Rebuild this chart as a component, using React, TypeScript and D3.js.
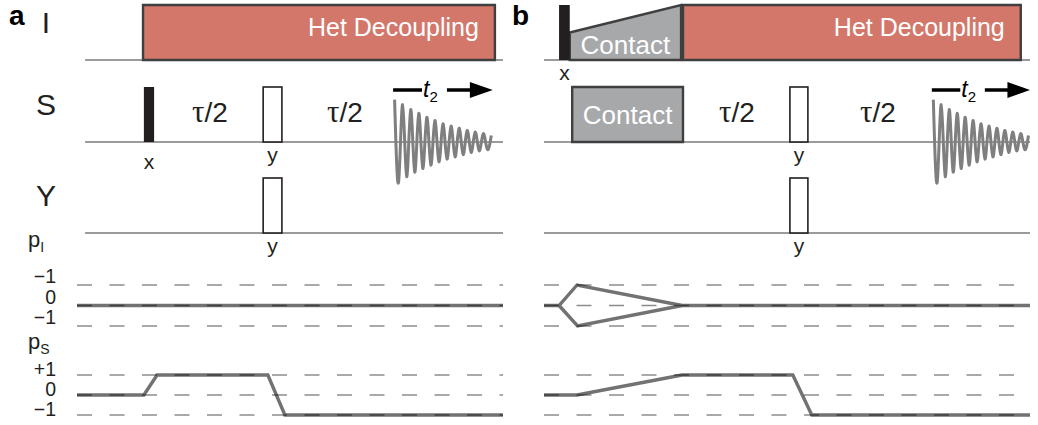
import React, { useEffect, useRef } from "react";
import * as d3 from "d3";

const W = 1038;
const H = 425;

// rows
const channels = ["I", "S", "Y"];
const levels = [1, 0, -1];
const pILevelLabels = ["−1", "0", "−1"];
const pSLevelLabels = ["+1", "0", "−1"];

// panel a (time in arbitrary units, 0-100 across the pathway window)
const hardPulsesA = [
  { ch: "S", t0: 15.7, t1: 18.1, filled: true, phase: "x" },
  { ch: "S", t0: 43.7, t1: 48.1, filled: false, phase: "y" },
  { ch: "Y", t0: 43.7, t1: 48.1, filled: false, phase: "y" },
];
const blocksA = [
  { ch: "I", t0: 15.5, t1: 98.1, h0: 1, h1: 1, kind: "het", label: "Het Decoupling" },
];
const delaysA = [31.2, 62.9];
const acqA = [74.2, 97.6];
const pIPathsA = [[[0, 0], [100, 0]]];
const pSPathA = [[0, 0], [15.7, 0], [18.8, 1], [44.8, 1], [48.8, -1], [100, -1]];

// panel b
const hardPulsesB = [
  { ch: "I", t0: 3.1, t1: 5.3, filled: true, phase: "x" },
  { ch: "S", t0: 50.6, t1: 54.3, filled: false, phase: "y" },
  { ch: "Y", t0: 50.6, t1: 54.3, filled: false, phase: "y" },
];
const blocksB = [
  { ch: "I", t0: 5.3, t1: 28.2, h0: 0.5, h1: 1, kind: "contact", label: "Contact" },
  { ch: "I", t0: 28.6, t1: 98.1, h0: 1, h1: 1, kind: "het", label: "Het Decoupling" },
  { ch: "S", t0: 5.8, t1: 28.6, h0: 1, h1: 1, kind: "contact", label: "Contact" },
];
const delaysB = [39.7, 68.7];
const acqB = [79.8, 100];
const pIPathsB = [
  [[0, 0], [3.1, 0], [6.8, 1], [28.4, 0], [100, 0]],
  [[3.1, 0], [6.9, -1], [28.4, 0]],
];
const pSPathB = [[0, 0], [6.8, 0], [28.4, 1], [51.2, 1], [55.1, -1], [100, -1]];

// FID extrema (fraction of pulse height), alternating sign
const fidAmps = [
  0.77, -0.72, 0.68, -0.63, 0.59, -0.55, 0.52, -0.48, 0.45, -0.42, 0.39, -0.36, 0.33,
  -0.31, 0.29, -0.27, 0.25, -0.23, 0.21, -0.19, 0.18, -0.16, 0.15, -0.13, 0.12,
];

const FONT = "'Liberation Sans', Arial, Helvetica, sans-serif";
const INK = "#231f20";

const PulseDiagram: React.FC = () => {
  const svgRef = useRef<SVGSVGElement | null>(null);

  useEffect(() => {
    document.body.style.margin = "0";
    const svg = d3.select(svgRef.current);
    svg.selectAll("*").remove();

    const rowY = d3.scaleOrdinal<string, number>().domain(channels).range([60, 142, 233]);
    const amp = d3.scaleLinear().domain([0, 1]).range([0, 55]);
    const yPI = d3.scaleLinear().domain([-1, 1]).range([326, 285]);
    const yPS = d3.scaleLinear().domain([-1, 1]).range([415, 375]);

    const drawPanel = (
      x: d3.ScaleLinear<number, number>,
      lineStart: number,
      hard: typeof hardPulsesA,
      blocks: typeof blocksA,
      delays: number[],
      acq: number[],
      pIPaths: number[][][],
      pSPath: number[][],
      phaseY: Record<string, number>
    ) => {
      const g = svg.append("g");

      // channel baselines
      channels.forEach((ch) => {
        g.append("line")
          .attr("x1", x(lineStart))
          .attr("x2", x(100))
          .attr("y1", rowY(ch))
          .attr("y2", rowY(ch))
          .attr("stroke", "#7a7a7a")
          .attr("stroke-width", 1.3);
      });

      // shaped blocks
      blocks.forEach((b) => {
        const base = rowY(b.ch);
        const pts: [number, number][] = [
          [x(b.t0), base],
          [x(b.t0), base - amp(b.h0)],
          [x(b.t1), base - amp(b.h1)],
          [x(b.t1), base],
        ];
        g.append("polygon")
          .attr("points", pts.map((p) => p.join(",")).join(" "))
          .attr("fill", b.kind === "het" ? "#d4776b" : "#a7a8aa")
          .attr("stroke", "#3f3f3f")
          .attr("stroke-width", 2.4)
          .attr("stroke-linejoin", "miter");
        const t = g.append("text")
          .attr("fill", "#fff")
          .attr("font-family", FONT)
          .text(b.label);
        if (b.kind === "het") {
          t.attr("x", x(b.t1) - 16).attr("y", base - 24).attr("text-anchor", "end").attr("font-size", 25);
        } else {
          const dy = b.h0 < 1 ? 6 : 18;
          t.attr("x", (x(b.t0) + x(b.t1)) / 2).attr("y", base - dy).attr("text-anchor", "middle").attr("font-size", 26);
        }
      });

      // hard pulses
      hard.forEach((p) => {
        const base = rowY(p.ch);
        g.append("rect")
          .attr("x", x(p.t0))
          .attr("y", base - amp(1))
          .attr("width", x(p.t1) - x(p.t0))
          .attr("height", amp(1))
          .attr("fill", p.filled ? INK : "#fff")
          .attr("stroke", INK)
          .attr("stroke-width", p.filled ? 0 : 1.6);
        g.append("text")
          .attr("x", (x(p.t0) + x(p.t1)) / 2)
          .attr("y", base + (phaseY[p.phase] ?? 20))
          .attr("text-anchor", "middle")
          .attr("font-family", FONT)
          .attr("font-size", 21)
          .attr("fill", INK)
          .text(p.phase);
      });

      // delays
      delays.forEach((d) => {
        const t = g.append("text")
          .attr("x", x(d))
          .attr("y", rowY("S") - 20)
          .attr("text-anchor", "middle")
          .attr("font-size", 28)
          .attr("fill", INK);
        t.append("tspan").attr("font-family", "'Liberation Serif', serif").attr("font-size", 31).text("τ");
        t.append("tspan").attr("font-family", FONT).text("/2");
      });

      // FID
      const base = rowY("S");
      const fx = d3.scaleLinear().domain([0, fidAmps.length - 1]).range([x(acq[0]) + 1.5, x(acq[1]) - 1.5]);
      const fid = d3.line<number>()
        .x((_, i) => fx(i))
        .y((a) => base - amp(a))
        .curve(d3.curveNatural);
      g.append("path")
        .attr("d", fid(fidAmps))
        .attr("fill", "none")
        .attr("stroke", "#7f7f7f")
        .attr("stroke-width", 3);

      // t2 arrow
      const ax = d3.scaleLinear().domain([0, 1]).range([x(acq[0]), x(acq[1])]);
      const ay = base - 52;
      g.append("line").attr("x1", ax(0)).attr("x2", ax(0.29)).attr("y1", ay).attr("y2", ay)
        .attr("stroke", "#000").attr("stroke-width", 3.5);
      g.append("line").attr("x1", ax(0.54)).attr("x2", ax(0.8)).attr("y1", ay).attr("y2", ay)
        .attr("stroke", "#000").attr("stroke-width", 3.5);
      g.append("polygon")
        .attr("points", `${ax(0.77)},${ay - 8} ${ax(1)},${ay} ${ax(0.77)},${ay + 8}`)
        .attr("fill", "#000");
      const tt = g.append("text")
        .attr("x", ax(0.30))
        .attr("y", ay + 7)
        .attr("font-family", FONT)
        .attr("fill", "#000");
      tt.append("tspan").attr("font-size", 23).attr("font-style", "italic").text("t");
      tt.append("tspan").attr("font-size", 15).attr("dy", 5).text("2");

      // coherence pathway grids
      const dash = (yy: number) =>
        g.append("line")
          .attr("x1", x(0))
          .attr("x2", x(100))
          .attr("y1", yy)
          .attr("y2", yy)
          .attr("stroke", "#000")
          .attr("stroke-opacity", 0.45)
          .attr("stroke-width", 1.5)
          .attr("stroke-dasharray", "15 17.5");

      const line = d3.line<number[]>()
        .x((d) => x(d[0]))
        .y((d) => d[1]);

      pIPaths.forEach((p) => {
        g.append("path")
          .attr("d", line(p.map((d) => [d[0], yPI(d[1])])))
          .attr("fill", "none")
          .attr("stroke", "#727272")
          .attr("stroke-width", 3.4)
          .attr("stroke-linejoin", "miter");
      });
      g.append("path")
        .attr("d", line(pSPath.map((d) => [d[0], yPS(d[1])])))
        .attr("fill", "none")
        .attr("stroke", "#727272")
        .attr("stroke-width", 3.4);

      levels.forEach((l) => {
        dash(yPI(l));
        dash(yPS(l));
      });
    };

    const xA = d3.scaleLinear().domain([0, 100]).range([77, 503]);
    const xB = d3.scaleLinear().domain([0, 100]).range([544, 1030]);

    drawPanel(xA, 1.9, hardPulsesA, blocksA, delaysA, acqA, pIPathsA, pSPathA, { x: 27, y: 20 });
    drawPanel(xB, 0, hardPulsesB, blocksB, delaysB, acqB, pIPathsB, pSPathB, { x: 20, y: 20 });

    // panel letters
    svg.append("text").attr("x", 9).attr("y", 25).attr("font-family", FONT).attr("font-weight", "bold")
      .attr("font-size", 28).attr("fill", "#000").text("a");
    svg.append("text").attr("x", 529).attr("y", 25).attr("text-anchor", "end").attr("font-family", FONT)
      .attr("font-weight", "bold").attr("font-size", 28).attr("fill", "#000").text("b");

    // channel labels
    channels.forEach((ch) => {
      svg.append("text")
        .attr("x", 46)
        .attr("y", rowY(ch) - 27)
        .attr("text-anchor", "middle")
        .attr("font-family", FONT)
        .attr("font-size", 30)
        .attr("fill", INK)
        .text(ch);
    });

    // pathway labels
    const pLabel = (y: number, sub: string) => {
      const t = svg.append("text").attr("x", 28).attr("y", y).attr("font-family", FONT).attr("fill", INK);
      t.append("tspan").attr("font-size", 22).text("p");
      t.append("tspan").attr("font-size", 14).attr("dy", 5).text(sub);
    };
    pLabel(247, "I");
    pLabel(349, "S");

    levels.forEach((l, i) => {
      svg.append("text").attr("x", 56).attr("y", yPI(l) - 2).attr("text-anchor", "end")
        .attr("font-family", FONT).attr("font-size", 19.5).attr("fill", INK).text(pILevelLabels[i]);
      svg.append("text").attr("x", 56).attr("y", yPS(l) + 1).attr("text-anchor", "end")
        .attr("font-family", FONT).attr("font-size", 19.5).attr("fill", INK).text(pSLevelLabels[i]);
    });
  }, []);

  return <svg ref={svgRef} width={W} height={H} style={{ display: "block", background: "#fff" }}></svg>;
};

export default function App() {
  return <PulseDiagram />;
}
